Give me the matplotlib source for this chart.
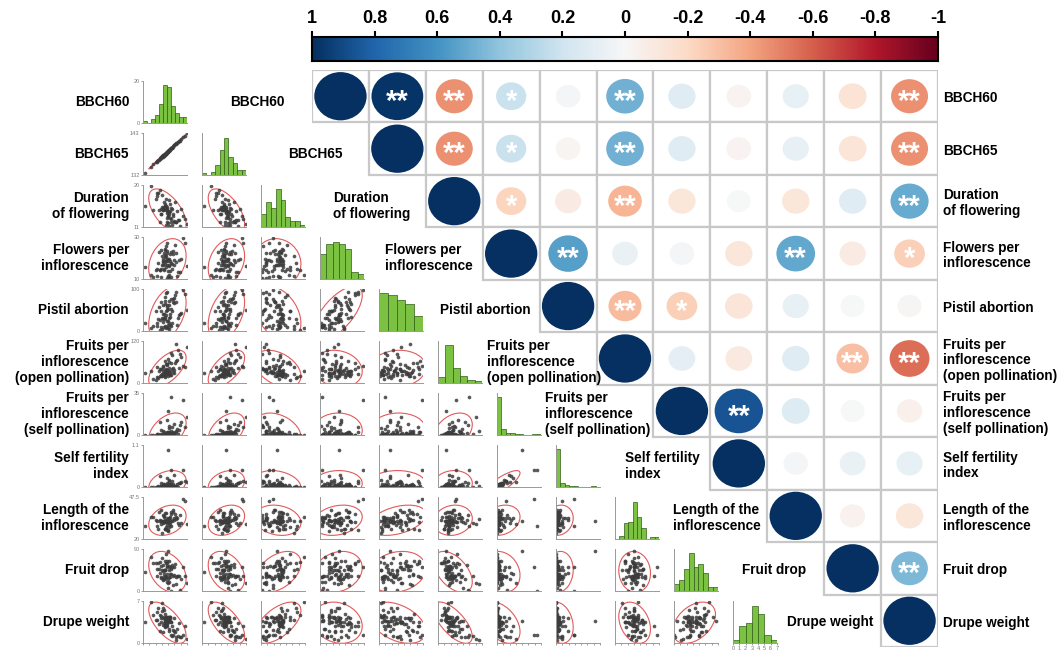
import numpy as np
import matplotlib.pyplot as plt
import matplotlib as mpl
from matplotlib.patches import Ellipse, Rectangle

plt.rcParams['font.family'] = ['Liberation Sans', 'DejaVu Sans']

# trait names (lower panels, diagonal and right side)
labels = ["BBCH60", "BBCH65", "Duration\nof flowering", "Flowers per\ninflorescence",
          "Pistil abortion", "Fruits per\ninflorescence\n(open pollination)",
          "Fruits per\ninflorescence\n(self pollination)", "Self fertility\nindex",
          "Length of the\ninflorescence", "Fruit drop", "Drupe weight"]

# axis ranges of each trait
limits = [(127, 138), (132, 143), (11, 20), (10, 30), (0, 100), (0, 120),
          (0, 35), (0, 1.1), (20, 47.5), (0, 90), (0, 7)]
hist_bins = [11, 10, 9, 7, 5, 6, 10, 10, 10, 9, 7]

# measured genotypes
bbch60 = [
    132.4, 133.1, 131.2, 134.0, 132.7, 135.3, 130.5, 133.6, 132.1, 136.2,
    131.8, 133.4, 134.5, 132.9, 129.6, 133.0, 135.8, 132.2, 131.5, 137.1,
    133.3, 132.6, 134.2, 130.8, 133.8, 132.5, 136.6, 131.1, 133.2, 132.8,
    127.4, 134.7, 132.3, 133.5, 135.0, 131.7, 132.0, 138.0, 133.7, 130.2,
    132.5, 134.4, 133.2, 131.4, 132.8, 135.5, 133.9, 132.6, 129.1, 134.1,
    133.0, 132.3, 136.0, 131.9, 133.4, 132.7, 134.8, 130.4, 133.1, 135.2,
    132.9, 131.6, 133.6, 137.4, 132.1, 134.3, 133.3, 132.4, 131.3, 133.8]
bbch65 = [
    137.5, 138.0, 136.3, 139.1, 137.6, 140.2, 135.6, 138.5, 137.2, 141.0,
    136.9, 138.4, 139.3, 137.9, 134.8, 138.1, 140.6, 137.1, 136.6, 141.9,
    138.4, 137.5, 139.0, 136.0, 138.7, 137.6, 141.5, 136.0, 138.3, 137.8,
    132.5, 139.8, 137.2, 138.6, 140.0, 136.8, 137.1, 142.9, 138.6, 135.3,
    137.4, 139.5, 138.1, 136.5, 137.8, 140.4, 139.0, 137.5, 134.2, 139.0,
    138.1, 137.2, 141.0, 136.8, 138.5, 137.6, 139.9, 135.4, 138.0, 140.3,
    137.8, 136.7, 138.5, 142.3, 137.2, 139.2, 138.4, 137.3, 136.4, 138.7]
duration = [
    14.8, 14.1, 18.9, 12.0, 14.7, 12.1, 18.3, 14.3, 14.7, 11.2,
    17.8, 13.7, 13.8, 15.3, 14.6, 14.7, 12.4, 16.4, 13.7, 13.4,
    13.4, 15.2, 11.4, 18.2, 14.4, 15.6, 14.8, 14.6, 13.3, 17.0,
    15.6, 12.1, 15.1, 11.3, 16.4, 15.3, 14.6, 11.6, 13.0, 16.9,
    15.4, 13.4, 14.2, 14.8, 11.4, 14.4, 15.0, 15.9, 19.8, 12.7,
    14.9, 15.2, 12.6, 14.8, 14.2, 15.5, 12.2, 17.7, 12.9, 12.0,
    12.0, 13.8, 16.8, 12.7, 15.1, 14.9, 11.9, 15.2, 12.1, 16.0]
flowers = [
    20.3, 16.8, 14.2, 17.4, 21.1, 22.6, 15.0, 16.5, 16.7, 13.3,
    20.8, 16.2, 21.8, 19.7, 10.8, 27.1, 13.4, 14.9, 14.8, 29.6,
    11.2, 24.2, 15.0, 17.8, 21.7, 17.3, 19.5, 22.9, 13.9, 15.5,
    15.6, 16.7, 22.5, 10.6, 26.1, 16.6, 18.1, 16.3, 18.4, 14.2,
    24.0, 23.4, 18.8, 11.0, 25.8, 11.6, 23.0, 21.3, 12.1, 10.9,
    23.5, 14.2, 19.2, 19.3, 19.5, 18.6, 19.1, 11.4, 22.4, 18.0,
    10.7, 23.6, 12.1, 27.3, 18.8, 17.0, 19.6, 18.4, 14.3, 13.9]
pistil = [
    11, 58, 3, 77, 7, 94, 20, 4, 63, 40,
    5, 72, 68, 24, 12, 92, 31, 9, 48, 97,
    14, 34, 48, 28, 41, 29, 43, 56, 6, 47,
    20, 78, 32, 18, 86, 32, 21, 49, 33, 47,
    65, 76, 24, 10, 91, 14, 52, 80, 8, 13,
    51, 40, 39, 28, 61, 37, 66, 11, 61, 70,
    9, 68, 31, 88, 40, 19, 53, 71, 26, 15]
fruits_open = [
    34, 52, 21, 58, 37, 64, 18, 31, 46, 82,
    26, 29, 44, 55, 12, 27, 95, 24, 41, 48,
    68, 33, 39, 15, 22, 62, 74, 35, 28, 53,
    30, 36, 25, 43, 57, 19, 38, 103, 34, 9,
    27, 31, 21, 23, 40, 66, 24, 16, 35, 85,
    33, 29, 42, 50, 26, 37, 30, 45, 32, 112,
    38, 21, 60, 47, 28, 79, 34, 20, 39, 26]
fruits_self = [
    1.2, 0.4, 0.0, 3.5, 0.8, 2.1, 0.0, 5.6, 0.3, 8.2,
    0.0, 1.5, 0.6, 12.4, 0.0, 2.8, 0.9, 0.2, 4.1, 29.5,
    1.1, 0.0, 6.3, 0.5, 1.8, 0.7, 10.5, 0.1, 2.4, 0.0,
    0.3, 1.4, 0.9, 7.4, 0.2, 0.0, 3.0, 14.8, 0.6, 0.0,
    1.0, 2.2, 19.6, 0.4, 0.0, 5.1, 1.7, 0.3, 0.0, 31.8,
    0.8, 2.6, 4.4, 0.1, 1.3, 0.0, 9.3, 0.5, 1.9, 3.7,
    0.0, 0.7, 2.9, 6.8, 0.2, 1.6, 0.0, 0.9, 11.2, 1.2]
self_fert = [
    0.035, 0.008, 0.0, 0.06, 0.022, 0.033, 0.0, 0.18, 0.007, 0.10,
    0.0, 0.05, 0.014, 0.23, 0.0, 0.10, 0.01, 0.008, 0.10, 0.45,
    0.016, 0.0, 0.16, 0.033, 0.08, 0.011, 0.14, 0.003, 0.086, 0.0,
    0.01, 0.039, 0.036, 0.17, 0.004, 0.0, 0.08, 0.14, 0.018, 0.0,
    0.037, 0.07, 0.98, 0.017, 0.0, 0.077, 0.07, 0.019, 0.0, 0.44,
    0.024, 0.09, 0.10, 0.002, 0.05, 0.0, 0.31, 0.011, 0.06, 0.033,
    0.0, 0.033, 0.048, 0.145, 0.007, 0.02, 0.0, 0.045, 0.29, 0.046]
length = [
    32.4, 31.2, 31.5, 36.1, 26.7, 34.4, 28.8, 27.9, 35.6, 35.9,
    24.2, 32.3, 38.9, 33.8, 34.5, 26.2, 30.6, 32.0, 38.7, 46.5,
    30.9, 31.1, 31.8, 26.4, 34.2, 31.6, 30.5, 37.4, 25.0, 28.1,
    28.2, 32.3, 34.1, 33.9, 36.4, 32.0, 30.8, 29.8, 31.3, 32.5,
    26.8, 37.6, 31.9, 30.0, 31.4, 33.8, 37.7, 26.4, 34.1, 28.2,
    31.6, 34.8, 28.9, 31.3, 30.5, 36.8, 33.6, 32.0, 29.3, 32.9,
    32.7, 32.0, 34.0, 44.6, 32.1, 32.7, 26.1, 37.1, 32.4, 29.3]
fruit_drop = [
    26, 61, 63, 37, 29, 30, 47, 46, 56, 2,
    46, 54, 33, 36, 61, 64, 32, 30, 28, 52,
    6, 33, 52, 61, 36, 45, 26, 48, 25, 80,
    40, 34, 36, 31, 58, 70, 25, 18, 31, 60,
    44, 12, 85, 29, 59, 33, 47, 65, 72, 0,
    51, 44, 32, 24, 65, 29, 51, 32, 53, 15,
    20, 53, 19, 33, 43, 55, 18, 46, 39, 52]
drupe_weight = [
    2.8, 4.2, 4.7, 3.5, 3.5, 1.0, 5.1, 4.3, 1.9, 1.0,
    6.6, 4.1, 1.4, 2.8, 4.7, 3.5, 1.1, 5.5, 3.5, 1.3,
    3.6, 3.2, 1.2, 5.8, 4.0, 3.7, 1.0, 3.2, 4.4, 4.4,
    3.5, 2.0, 4.3, 3.7, 1.9, 5.4, 3.0, 0.6, 4.4, 3.9,
    2.7, 2.2, 3.7, 4.5, 2.8, 2.4, 3.5, 4.9, 6.8, 1.3,
    3.4, 3.4, 3.4, 4.1, 2.0, 3.9, 4.2, 3.9, 3.1, 0.5,
    4.3, 4.2, 2.4, 2.8, 5.9, 2.8, 3.5, 3.8, 2.0, 4.4]

traits = [bbch60, bbch65, duration, flowers, pistil, fruits_open,
          fruits_self, self_fert, length, fruit_drop, drupe_weight]

# Pearson correlations (upper triangle, row i / column j >= i)
corr_rows = [
    [1, 0.98, -0.46, 0.22, 0.02, 0.48, 0.12, -0.03, 0.08, -0.14, -0.46],
    [1, -0.46, 0.22, -0.02, 0.48, 0.12, -0.03, 0.08, -0.13, -0.46],
    [1, -0.22, -0.08, -0.34, -0.12, 0.0, -0.12, 0.12, 0.50],
    [1, 0.55, 0.07, 0.02, -0.12, 0.52, -0.08, -0.24],
    [1, -0.32, -0.24, -0.13, 0.08, 0.0, -0.01],
    [1, 0.10, -0.10, 0.12, -0.30, -0.56],
    [1, 0.86, 0.14, 0.0, -0.05],
    [1, 0.02, 0.07, 0.08],
    [1, -0.04, -0.12],
    [1, 0.45],
    [1]]
sig_rows = [
    ["", "**", "**", "*", "", "**", "", "", "", "", "**"],
    ["", "**", "*", "", "**", "", "", "", "", "**"],
    ["", "*", "", "**", "", "", "", "", "**"],
    ["", "**", "", "", "", "**", "", "*"],
    ["", "**", "*", "", "", "", ""],
    ["", "", "", "", "**", "**"],
    ["", "**", "", "", ""],
    ["", "", "", ""],
    ["", "", ""],
    ["", "**"],
    [""]]
cbar_ticks = [1, 0.8, 0.6, 0.4, 0.2, 0, -0.2, -0.4, -0.6, -0.8, -1]

W, H = 1057, 652
fig = plt.figure(figsize=(W / 100, H / 100), dpi=100)


def box(x0, y0, x1, y1):
    return fig.add_axes([x0 / W, 1 - y1 / H, (x1 - x0) / W, (y1 - y0) / H])


def cov_ellipse(ax, x, y, k=2.45):
    cov = np.cov(x, y)
    vals, vecs = np.linalg.eigh(cov)
    vals, vecs = vals[::-1], vecs[:, ::-1]
    ang = np.degrees(np.arctan2(vecs[1, 0], vecs[0, 0]))
    e = Ellipse((np.mean(x), np.mean(y)), 2 * k * np.sqrt(max(vals[0], 0)),
                2 * k * np.sqrt(max(vals[1], 0)), angle=ang,
                fill=False, ec='#e25a5a', lw=0.8, zorder=1)
    ax.add_patch(e)


n = len(traits)
tick_kw = dict(labelsize=4, colors='#777777', length=1.5, width=0.5, pad=1)
lab_kw = dict(fontsize=9.8, fontweight='bold', va='center', linespacing=1.15)

# lower triangle: scatter plots, histograms on the diagonal
for i in range(n):
    top = 81 + 52 * i
    for j in range(i + 1):
        left = 143 + 59 * j
        ax = box(left, top, left + 44, top + 42)
        for s in ['top', 'right']:
            ax.spines[s].set_visible(False)
        for s in ['left', 'bottom']:
            ax.spines[s].set_color('#999999')
            ax.spines[s].set_linewidth(0.7)
        ax.set_xlim(limits[j])
        if i == j:
            cnt, edges, _ = ax.hist(traits[i], bins=hist_bins[i], range=limits[i],
                                    color='#7cc242', edgecolor='#2f5d16', linewidth=0.5)
            ymax = int(np.ceil(cnt.max() * 1.1))
            ax.set_ylim(0, ymax)
            yt = [0, ymax]
        else:
            ax.scatter(traits[j], traits[i], s=7, color='#3c3c3c', alpha=0.85,
                       linewidths=0, zorder=2)
            cov_ellipse(ax, traits[j], traits[i])
            ax.set_ylim(limits[i])
            yt = list(limits[i])
        if j == 0:
            ax.set_yticks(yt)
            ax.set_yticklabels(['%g' % v for v in yt])
        else:
            ax.set_yticks([])
        if i == n - 1:
            lo, hi = limits[j]
            xt = np.linspace(lo, hi, 8)
            ax.set_xticks(xt)
            if j == n - 1:
                ax.set_xticklabels(['%g' % v for v in xt])
            else:
                ax.set_xticklabels([])
        else:
            ax.set_xticks([])
        ax.tick_params(**tick_kw)

    yc = 1 - (top + 21) / H
    fig.text(129 / W, yc, labels[i], ha='right', multialignment='right', **lab_kw)

# diagonal names
diag_x = [230, 288, 333, 385, 440, 487, 545, 625, 673, 742, 787]
for i in range(n):
    fig.text(diag_x[i] / W, 1 - (81 + 52 * i + 21) / H, labels[i], ha='left', **lab_kw)

# upper triangle: correlation circles
cmap = plt.get_cmap('RdBu')
norm = mpl.colors.Normalize(-1, 1)
gax = box(312, 70, 938, 647)
gax.set_xlim(0, n)
gax.set_ylim(n, 0)
gax.axis('off')
for i in range(n):
    for k, r in enumerate(corr_rows[i]):
        j = i + k
        gax.add_patch(Rectangle((j, i), 1, 1, fc='white', ec='#c8c8c8', lw=1.6, zorder=1))
        d = 0.42 + 0.5 * abs(r)
        gax.add_patch(Ellipse((j + 0.5, i + 0.5), d, d, color=cmap(norm(r)), lw=0, zorder=2))
        if sig_rows[i][k]:
            gax.text(j + 0.5, i + 0.76, sig_rows[i][k], ha='center', va='baseline',
                     color='white', fontsize=21, fontweight='bold', zorder=3)
    fig.text(943 / W, 1 - (70 + 52.45 * (i + 0.5) + 2) / H, labels[i], ha='left', **lab_kw)

# colour key
cax = box(312, 37, 938, 61)
cax.imshow(np.linspace(1, -1, 512)[None, :], aspect='auto', cmap=cmap, norm=norm,
           extent=[1, -1, 0, 1])
cax.set_xlim(1, -1)
cax.set_yticks([])
cax.set_xticks(cbar_ticks)
cax.set_xticklabels(['%g' % t for t in cbar_ticks], fontsize=13, fontweight='bold')
cax.tick_params(axis='x', top=True, bottom=False, labeltop=True, labelbottom=False,
                direction='out', length=4, width=1.5, pad=3)
for s in cax.spines.values():
    s.set_linewidth(1.5)

fig.savefig('out.png', dpi=100)
